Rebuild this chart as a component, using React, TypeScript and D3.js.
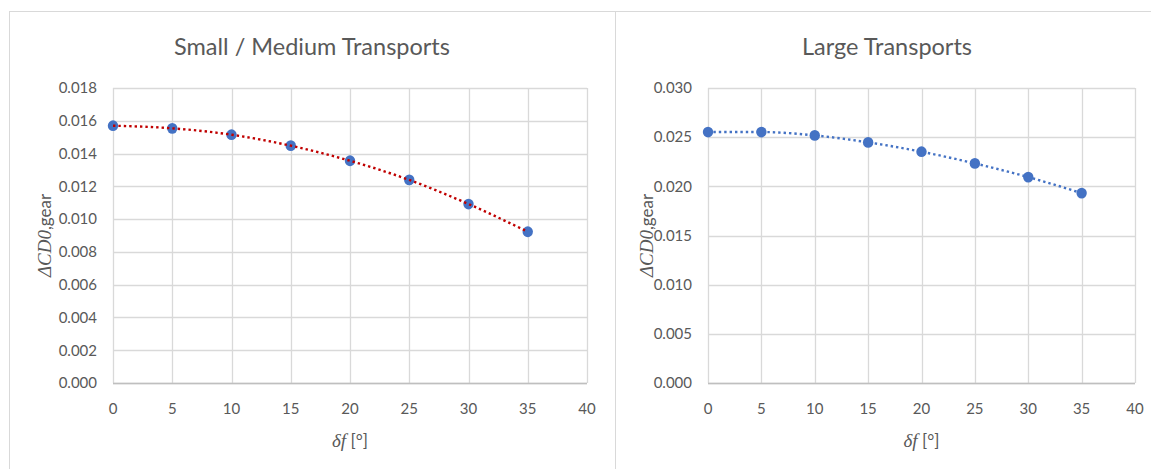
import React from "react";
import * as d3 from "d3";

// ---- data ----
const flapDeflection = [0, 5, 10, 15, 20, 25, 30, 35];
const smallMediumCD0 = [0.0157, 0.01554, 0.01515, 0.01448, 0.01356, 0.01239, 0.01092, 0.00923];
const largeCD0 = [0.02552, 0.02552, 0.02518, 0.02447, 0.02352, 0.02233, 0.02094, 0.01931];
const xTicks = [0, 5, 10, 15, 20, 25, 30, 35, 40];
const smallYTicks = [0, 0.002, 0.004, 0.006, 0.008, 0.01, 0.012, 0.014, 0.016, 0.018];
const largeYTicks = [0, 0.005, 0.01, 0.015, 0.02, 0.025, 0.03];
const titles = ["Small / Medium Transports", "Large Transports"];

const FONT = "Lato, 'Open Sans', sans-serif";
const MATH = "'Liberation Serif', 'DejaVu Serif', serif";
const TEXT = "#595959";
const GRID = "#D9D9D9";
const MARKER = "#4472C4";

type PanelProps = {
  fx: number;
  fw: number;
  title: string;
  x0: number;
  x1: number;
  yTop: number;
  yBot: number;
  yTicks: number[];
  values: number[];
  lineColor: string;
  lineOnTop: boolean;
  yTitleX: number;
};

function Panel(p: PanelProps) {
  const x = d3.scaleLinear().domain([0, 40]).range([p.x0, p.x1]);
  const y = d3
    .scaleLinear()
    .domain([0, p.yTicks[p.yTicks.length - 1]])
    .range([p.yBot, p.yTop]);
  const pts = flapDeflection.map((d, i) => [d, p.values[i]] as [number, number]);
  const line = d3
    .line<[number, number]>()
    .x((d) => x(d[0]))
    .y((d) => y(d[1]))
    .curve(d3.curveMonotoneX);
  const path = (
    <path
      d={line(pts) || ""}
      fill="none"
      stroke={p.lineColor}
      strokeWidth={2.4}
      strokeDasharray="2.4 3"
    />
  );
  const markers = pts.map((d, i) => (
    <ellipse key={i} cx={x(d[0])} cy={y(d[1])} rx={5.2} ry={5.4} fill={MARKER} />
  ));
  const cx = (p.x0 + p.x1) / 2;
  const cy = (p.yTop + p.yBot) / 2;
  return (
    <g>
      <rect x={p.fx + 0.5} y={11.5} width={p.fw} height={520} fill="#fff" stroke={GRID} strokeWidth={1} />
      <text
        x={p.fx + p.fw / 2}
        y={55}
        textAnchor="middle"
        fontFamily={FONT}
        fontSize={23.5}
        fontWeight={400}
        fill={TEXT}
      >
        {p.title}
      </text>
      {p.yTicks.map((t, i) => (
        <line key={"h" + i} x1={p.x0} x2={p.x1} y1={Math.round(y(t)) + 0.5} y2={Math.round(y(t)) + 0.5} stroke={GRID} strokeWidth={1.3} />
      ))}
      {xTicks.map((t, i) => (
        <line key={"v" + i} x1={Math.round(x(t)) + 0.5} x2={Math.round(x(t)) + 0.5} y1={p.yTop} y2={p.yBot} stroke={GRID} strokeWidth={1.3} />
      ))}
      <line x1={p.x0} x2={p.x1} y1={Math.round(p.yBot) + 0.5} y2={Math.round(p.yBot) + 0.5} stroke="#BFBFBF" strokeWidth={1.3} />
      {p.yTicks.map((t, i) => (
        <text key={"yl" + i} x={p.x0 - 16} y={y(t) + 5.3} textAnchor="end" fontFamily={FONT} fontSize={15} fill={TEXT}>
          {d3.format(".3f")(t)}
        </text>
      ))}
      {xTicks.map((t, i) => (
        <text key={"xl" + i} x={x(t)} y={p.yBot + 31} textAnchor="middle" fontFamily={FONT} fontSize={15} fill={TEXT}>
          {t}
        </text>
      ))}
      <text x={cx} y={p.yBot + 64} textAnchor="middle" fill={TEXT}>
        <tspan fontFamily={MATH} fontStyle="italic" fontSize={19}>δf</tspan>
        <tspan fontFamily={FONT} fontSize={17}> [°]</tspan>
      </text>
      <text
        transform={`translate(${p.yTitleX + 6}, ${cy}) rotate(-90)`}
        textAnchor="middle"
        fill={TEXT}
      >
        <tspan fontFamily={MATH} fontStyle="italic" fontSize={19}>ΔCD0</tspan>
        <tspan fontFamily={FONT} fontSize={17}>,gear</tspan>
      </text>
      {p.lineOnTop ? (
        <>
          {markers}
          {path}
        </>
      ) : (
        <>
          {path}
          {markers}
        </>
      )}
    </g>
  );
}

export default function App() {
  return (
    <svg
      width={1151}
      height={469}
      style={{ position: "absolute", left: 0, top: 0, background: "#fff" }}
    >
      <rect x={0} y={0} width={1151} height={469} fill="#fff" />
      <Panel
        fx={9}
        fw={606}
        title={titles[0]}
        x0={113}
        x1={587}
        yTop={88}
        yBot={383}
        yTicks={smallYTicks}
        values={smallMediumCD0}
        lineColor="#C00000"
        lineOnTop={true}
        yTitleX={45}
      />
      <Panel
        fx={615}
        fw={544}
        title={titles[1]}
        x0={708}
        x1={1135}
        yTop={88}
        yBot={383}
        yTicks={largeYTicks}
        values={largeCD0}
        lineColor={MARKER}
        lineOnTop={false}
        yTitleX={647}
      />
    </svg>
  );
}
